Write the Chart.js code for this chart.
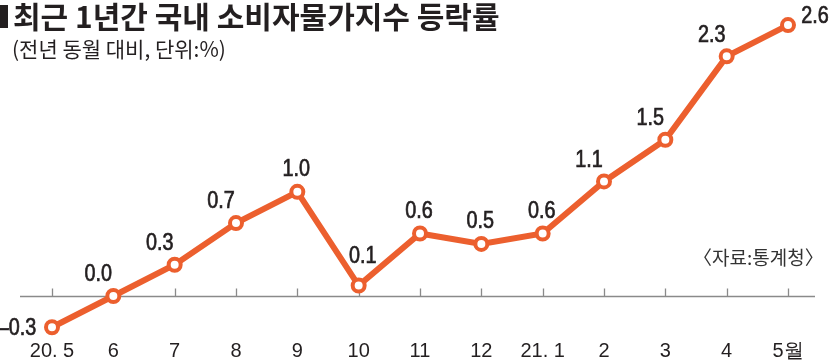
<!DOCTYPE html>
<html>
<head>
<meta charset="utf-8">
<script src="https://cdn.jsdelivr.net/npm/chart.js@4.4.1/dist/chart.umd.min.js"></script>
<style>
  html, body { margin: 0; padding: 0; background: #fff; }
  #wrap { position: relative; width: 830px; height: 363px; overflow: hidden; }
  canvas { position: absolute; left: 0; top: 0; }
  .t { position: absolute; font-family: "Noto Sans CJK KR", sans-serif; color: #231f20; white-space: nowrap; line-height: 1; }
  #bar { position: absolute; left: 0; top: 5px; width: 8px; height: 23px; background: #231f20; }
  #title { left: 13px; top: 0px; font-weight: 700; font-size: 30px; }
  #sub { left: 12px; top: 38px; font-size: 21px; }
  #src { left: 693px; top: 247px; font-size: 19px; color: #333; }
</style>
</head>
<body>
<div id="wrap">
  <canvas id="c" width="830" height="363"></canvas>
  <div id="bar"></div>
  <div id="title" class="t">최근 1년간 국내 소비자물가지수 등락률</div>
  <div id="sub" class="t">(전년 동월 대비, 단위:%)</div>
  <div id="src" class="t">〈자료:통계청〉</div>
</div>
<script>
const months = ['20. 5', '6', '7', '8', '9', '10', '11', '12', '21. 1', '2', '3', '4', '5월'];
const rates = [-0.3, 0.0, 0.3, 0.7, 1.0, 0.1, 0.6, 0.5, 0.6, 1.1, 1.5, 2.3, 2.6];
const valueLabels = ['-0.3', '0.0', '0.3', '0.7', '1.0', '0.1', '0.6', '0.5', '0.6', '1.1', '1.5', '2.3', '2.6'];
// label placement style relative to each point
const labelPlacement = ['w', 'nw', 'nw', 'nw', 'n', 'nh', 'n', 'n', 'n', 'nw', 'nw', 'nw', 'ne'];

const LINE = '#ec5f2e';
const TEXT = '#231f20';

const placeOffsets = {
  w:  [-35, 1],
  nw: [-15, -21],
  n:  [-1, -22],
  nh: [4, -29],
  ne: [27, -8]
};

const axisPlugin = {
  id: 'zeroAxis',
  beforeDatasetsDraw(chart) {
    const ctx = chart.ctx;
    const xs = chart.scales.x, ys = chart.scales.y;
    const y0 = Math.round(ys.getPixelForValue(0)) + 0.5;
    ctx.save();
    ctx.strokeStyle = '#8a8a8a';
    ctx.lineWidth = 1.3;
    ctx.beginPath();
    ctx.moveTo(20, y0);
    ctx.lineTo(815, y0);
    for (let i = 0; i < months.length; i++) {
      const x = Math.round(xs.getPixelForValue(i)) + 0.5;
      ctx.moveTo(x, y0);
      ctx.lineTo(x, y0 - 8);
    }
    ctx.stroke();
    ctx.restore();
  },
  afterDatasetsDraw(chart) {
    const ctx = chart.ctx;
    const meta = chart.getDatasetMeta(0);
    meta.data.forEach((pt, i) => {
      const off = placeOffsets[labelPlacement[i]];
      const s = valueLabels[i].replace('-', '–');
      ctx.save();
      ctx.translate(pt.x + off[0], pt.y + off[1]);
      ctx.scale(0.86, 1);
      ctx.fillStyle = TEXT;
      ctx.strokeStyle = TEXT;
      ctx.lineWidth = 0.7;
      ctx.font = '23px "Liberation Sans", Arial, sans-serif';
      ctx.textAlign = 'center';
      ctx.textBaseline = 'middle';
      ctx.fillText(s, 0, 0);
      ctx.strokeText(s, 0, 0);
      ctx.restore();
    });
  }
};

new Chart(document.getElementById('c'), {
  type: 'line',
  data: {
    labels: months,
    datasets: [{
      data: rates,
      borderColor: LINE,
      borderWidth: 6,
      pointRadius: 6,
      pointBorderWidth: 4,
      pointBackgroundColor: '#ffffff',
      pointBorderColor: LINE,
      tension: 0,
      clip: false
    }]
  },
  options: {
    responsive: false,
    animation: false,
    events: [],
    layout: { padding: { left: 52, right: 42, top: 10, bottom: -6 } },
    plugins: { legend: { display: false }, tooltip: { enabled: false }, title: { display: false } },
    scales: {
      x: {
        offset: false,
        grid: { display: false, drawTicks: false },
        border: { display: false },
        ticks: {
          padding: 6,
          color: TEXT,
          font: { family: '"Liberation Sans", Arial, sans-serif', size: 20 },
          maxRotation: 0,
          autoSkip: false
        }
      },
      y: {
        display: false,
        min: -0.355,
        max: 2.745
      }
    }
  },
  plugins: [axisPlugin]
});
</script>
</body>
</html>
